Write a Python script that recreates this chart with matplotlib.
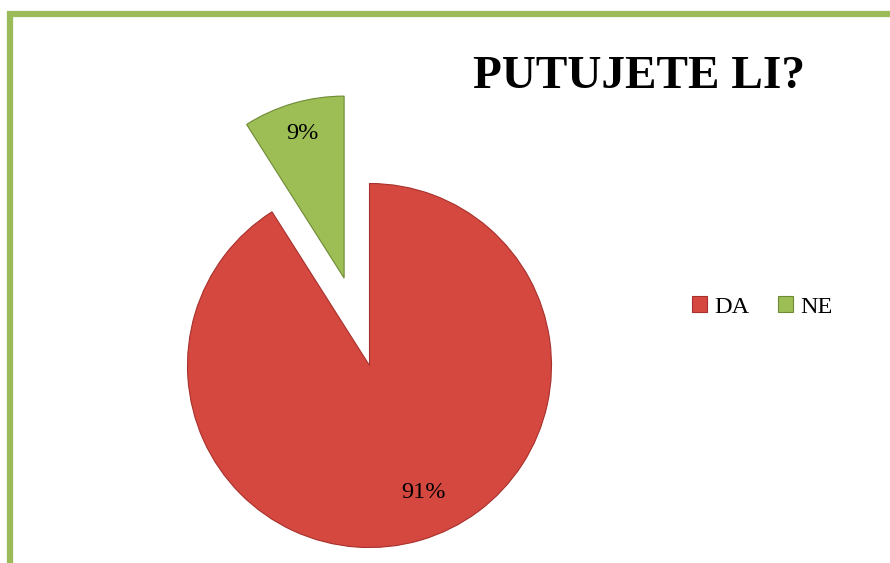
import numpy as np
import matplotlib
matplotlib.use("Agg")
import matplotlib.pyplot as plt
from matplotlib.patches import Rectangle

# ---- data -----------------------------------------------------------------
labels = ["DA", "NE"]
shares = [91, 9]
title = "PUTUJETE LI?"

colors = ["#D4483F", "#9DBE55"]
edges = ["#A8302C", "#6E8A35"]

plt.rcParams["font.family"] = ["Liberation Serif", "DejaVu Serif"]

W, H = 890, 563
fig = plt.figure(figsize=(W / 100, H / 100), dpi=100)

# green page border (runs off right/bottom edge)
fig.patches.append(Rectangle((10 / W, -0.1), 1.2, (H - 14) / H + 0.1,
                             transform=fig.transFigure, fill=False,
                             edgecolor="#9BBB59", lw=4.5))

# pie axes: centre (369.5, 365.5) px, radius 182 px, limits +-1.6
cx, cy, r = 369.5, 365.5, 182.0
lim = 1.6
half = r * lim
ax = fig.add_axes([(cx - half) / W, (H - cy - half) / H, 2 * half / W, 2 * half / H])

wedges, texts, autotexts = ax.pie(
    shares, labels=None, colors=colors, startangle=90, counterclock=False,
    explode=[0, 0.5], autopct="%d%%", pctdistance=0.78,
    wedgeprops=dict(linewidth=0.8), textprops=dict(fontsize=17.5, color="black"))
for w, ec in zip(wedges, edges):
    w.set_edgecolor(ec)
ax.set_xlim(-lim, lim)
ax.set_ylim(-lim, lim)
ax.axis("off")

# nudge the percentage labels to match the picture (data-unit offsets)
for t, (ddx, ddy) in zip(autotexts, [(0.08, 0.05), (-0.01, 0.045)]):
    x, y = t.get_position()
    t.set_position((x + ddx, y + ddy))

fig.text(473 / W, 1 - 77 / H, title, fontsize=34, fontweight="bold",
         ha="left", va="center")

fig.legend(wedges, labels, loc="center left", bbox_to_anchor=(680 / W, 1 - 307 / H),
           ncol=2, frameon=False, fontsize=17.5, handlelength=0.6, handleheight=0.6,
           handletextpad=0.3, columnspacing=1.2, borderpad=0)

fig.savefig("out.png", dpi=100)
